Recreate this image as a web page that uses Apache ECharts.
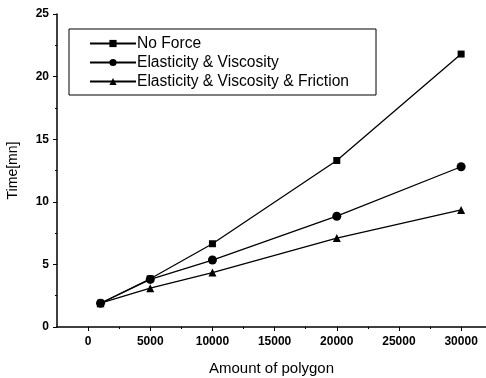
<!DOCTYPE html>
<html><head><meta charset="utf-8">
<script src="https://cdn.jsdelivr.net/npm/echarts@6/dist/echarts.min.js"></script>
<style>html,body{margin:0;padding:0;background:#fff}#c{width:486px;height:378px}</style>
</head><body><div id="c"></div>
<script>
const polygons = [1000, 5000, 10000, 20000, 30000];
const noForce = [1.9, 3.85, 6.65, 13.3, 21.8];
const elastVisc = [1.9, 3.8, 5.35, 8.85, 12.8];
const elastViscFric = [1.9, 3.1, 4.35, 7.1, 9.35];
const seriesNames = ['No Force', 'Elasticity & Viscosity', 'Elasticity & Viscosity & Friction'];
const xMajor = [0, 5000, 10000, 15000, 20000, 25000, 30000];
const xMinor = [2500, 7500, 12500, 17500, 22500, 27500];

const pairs = arr => polygons.map((x, i) => [x, arr[i]]);
const font = 'Liberation Sans, Arial, sans-serif';
const mk = (name, data, symbol, size) => ({
  name, type: 'line', data: pairs(data), symbol, symbolSize: size,
  lineStyle: { color: '#000', width: 1.3 }, itemStyle: { color: '#000' },
  animation: false
});
const chart = echarts.init(document.getElementById('c'));
chart.setOption({
  backgroundColor: '#fff',
  animation: false,
  grid: { left: 57, right: 0, top: 14, bottom: 51, outerBoundsMode: 'none', containLabel: false },
  legend: {
    left: 69, top: 29, orient: 'vertical',
    padding: [6, 27, 5, 20], itemGap: 2,
    itemWidth: 46, itemHeight: 9,
    borderColor: '#000', borderWidth: 1,
    textStyle: { fontFamily: font, fontSize: 15.6, color: '#000', padding: [0, 0, 0, -4], lineHeight: 17 },
    data: seriesNames
  },
  xAxis: [{
    type: 'value', min: -2500, max: 32000,
    name: 'Amount of polygon', nameLocation: 'middle', nameGap: 34,
    nameTextStyle: { fontFamily: font, fontSize: 15, color: '#000' },
    axisLine: { onZero: false, lineStyle: { color: '#000', width: 1.5 } },
    axisTick: { customValues: xMajor, length: 4, lineStyle: { color: '#000' } },
    axisLabel: { customValues: xMajor, formatter: v => String(v), fontFamily: font, fontSize: 12, fontWeight: 'bold', color: '#000', margin: 9 },
    splitLine: { show: false }
  }, {
    type: 'value', min: -2500, max: 32000, position: 'bottom',
    axisLine: { show: false, onZero: false },
    axisTick: { customValues: xMinor, length: 2, lineStyle: { color: '#000' } },
    axisLabel: { show: false },
    splitLine: { show: false }
  }],
  yAxis: {
    type: 'value', min: 0, max: 25, interval: 5,
    name: 'Time[mn]', nameLocation: 'middle', nameGap: 37, nameRotate: 90,
    nameTextStyle: { fontFamily: font, fontSize: 14, color: '#000' },
    axisLine: { show: true, onZero: false, lineStyle: { color: '#000', width: 1.5 } },
    axisTick: { show: true, length: 4, lineStyle: { color: '#000' } },
    minorTick: { show: true, splitNumber: 2, length: 2, lineStyle: { color: '#000' } },
    axisLabel: { fontFamily: font, fontSize: 12, fontWeight: 'bold', color: '#000', margin: 8 },
    splitLine: { show: false }
  },
  series: [
    mk(seriesNames[0], noForce, 'rect', 7),
    mk(seriesNames[1], elastVisc, 'circle', 9),
    mk(seriesNames[2], elastViscFric, 'triangle', 8)
  ]
});
</script></body></html>
